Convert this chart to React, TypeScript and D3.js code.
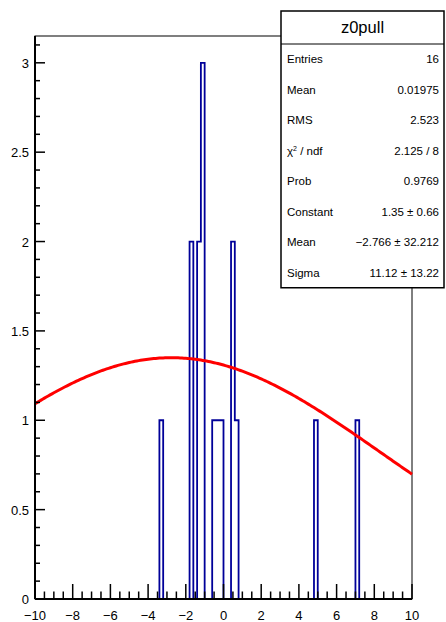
import React from "react";
import * as d3 from "d3";

// Histogram definition (100 bins from -10 to 10)
const nBins = 100;
const xMin = -10;
const xMax = 10;
// Non-empty bins: lower edge and content
const binLows = [-3.4, -1.8, -1.4, -1.2, -0.6, -0.4, -0.2, 0.4, 0.6, 4.8, 7.0];
const binCounts = [1, 2, 2, 3, 1, 1, 1, 2, 1, 1, 1];

// Fit parameters (gaussian)
const fitConstant = 1.35;
const fitMean = -2.766;
const fitSigma = 11.12;

const xTickLabels = [-10, -8, -6, -4, -2, 0, 2, 4, 6, 8, 10];
const yTickLabels = [0, 0.5, 1, 1.5, 2, 2.5, 3];

const statTitle = "z0pull";
const statNames = ["Entries", "Mean", "RMS", "CHI", "Prob", "Constant", "Mean", "Sigma"];
const statValues = ["16", "0.01975", "2.523", "2.125 / 8", "0.9769", "1.35 \u00b1 0.66", "\u22122.766 \u00b1 32.212", "11.12 \u00b1 13.22"];

const W = 446;
const H = 622;
const F = { left: 35, right: 412, top: 36, bottom: 599 };
const font = "'Liberation Sans', Arial, Helvetica, sans-serif";

function fmt(v: number) {
  const s = String(v);
  return v < 0 ? "\u2212" + s.slice(1) : s;
}

export default function App() {
  const x = d3.scaleLinear().domain([xMin, xMax]).range([F.left, F.right]);
  const y = d3.scaleLinear().domain([0, 3.15]).range([F.bottom, F.top]);

  // build bin contents
  const width = (xMax - xMin) / nBins;
  const counts = new Array(nBins).fill(0);
  binLows.forEach((lo, i) => {
    const idx = Math.round((lo - xMin) / width);
    counts[idx] = binCounts[i];
  });

  // step path
  let path = `M${x(xMin)},${y(0)}`;
  for (let i = 0; i < nBins; i++) {
    const lo = xMin + i * width;
    const hi = lo + width;
    path += `L${x(lo)},${y(counts[i])}L${x(hi)},${y(counts[i])}`;
  }
  path += `L${x(xMax)},${y(0)}`;

  const gaus = (v: number) => fitConstant * Math.exp(-0.5 * Math.pow((v - fitMean) / fitSigma, 2));
  const fitPts = d3.range(0, 201).map((i) => xMin + (i * (xMax - xMin)) / 200);
  const line = d3.line<number>().x((v) => x(v)).y((v) => y(gaus(v))).curve(d3.curveLinear);

  const xMajor = xTickLabels;
  const xMinor = d3.range(xMin, xMax + 0.001, 0.5).filter((v) => Math.abs(v / 2 - Math.round(v / 2)) > 1e-6);
  const yMajor = yTickLabels;
  const yMinor = d3.range(0, 3.15, 0.1).filter((v) => Math.abs(v * 2 - Math.round(v * 2)) > 1e-6);

  const rowStep = 30.5;
  const rowY = statNames.map((_, i) => 59 + i * rowStep);
  const box = { x1: 281, x2: 444, y1: 11, y2: 59 + 7 * rowStep + rowStep / 2, sep: 44 };

  return (
    <svg width={W} height={H} style={{ position: "absolute", left: 0, top: 0, background: "#fff" }} fontFamily={font}>
      <rect x={0} y={0} width={W} height={H} fill="#fff" />
      {/* frame */}
      <rect x={F.left} y={F.top} width={F.right - F.left} height={F.bottom - F.top} fill="none" stroke="#000" strokeWidth={1} />
      {/* histogram */}
      <path d={path} fill="none" stroke="#000099" strokeWidth={1.8} />
      {/* fit */}
      <path d={line(fitPts) || ""} fill="none" stroke="#ff0000" strokeWidth={3} />
      {/* axes */}
      <line x1={F.left} x2={F.right} y1={F.bottom} y2={F.bottom} stroke="#000" strokeWidth={2} />
      <line x1={F.left} x2={F.left} y1={F.top} y2={F.bottom} stroke="#000" strokeWidth={2} />
      {xMajor.map((v) => (
        <line key={"xM" + v} x1={x(v)} x2={x(v)} y1={F.bottom} y2={F.bottom - 15} stroke="#000" strokeWidth={1.5} />
      ))}
      {xMinor.map((v) => (
        <line key={"xm" + v} x1={x(v)} x2={x(v)} y1={F.bottom} y2={F.bottom - 7.5} stroke="#000" strokeWidth={1.5} />
      ))}
      {yMajor.map((v) => (
        <line key={"yM" + v} x1={F.left} x2={F.left + 10} y1={y(v)} y2={y(v)} stroke="#000" strokeWidth={1.5} />
      ))}
      {yMinor.map((v) => (
        <line key={"ym" + v} x1={F.left} x2={F.left + 5} y1={y(v)} y2={y(v)} stroke="#000" strokeWidth={1.5} />
      ))}
      {xTickLabels.map((v) => (
        <text key={"xl" + v} x={x(v)} y={620} fontSize={13} textAnchor="middle" fill="#000">
          {fmt(v)}
        </text>
      ))}
      {yTickLabels.map((v) => (
        <text key={"yl" + v} x={29} y={y(v) + 5} fontSize={13} textAnchor="end" fill="#000">
          {fmt(v)}
        </text>
      ))}
      {/* stats box */}
      <rect x={box.x1} y={box.y1} width={box.x2 - box.x1} height={box.y2 - box.y1} fill="#fff" stroke="#000" strokeWidth={1.5} />
      <line x1={box.x1} x2={box.x2} y1={box.sep} y2={box.sep} stroke="#000" strokeWidth={1} />
      <text x={(box.x1 + box.x2) / 2} y={33} fontSize={16.5} textAnchor="middle" fill="#000">
        {statTitle}
      </text>
      {statNames.map((n, i) => (
        <g key={"s" + i}>
          <text x={287} y={rowY[i] + 4} fontSize={11.5} fill="#000">
            {n === "CHI" ? (
              <>
                {"\u03c7"}
                <tspan fontSize={7} dy={-4}>2</tspan>
                <tspan dy={4}>{" / ndf"}</tspan>
              </>
            ) : (
              n
            )}
          </text>
          <text x={439} y={rowY[i] + 4} fontSize={11.5} textAnchor="end" fill="#000">
            {statValues[i]}
          </text>
        </g>
      ))}
    </svg>
  );
}
